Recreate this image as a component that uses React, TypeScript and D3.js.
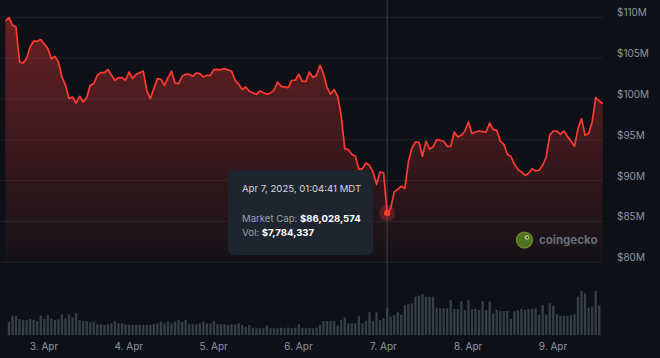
import React from "react";
import * as d3 from "d3";

const W = 660;
const H = 358;

// Market cap (USD millions), hour offsets from Apr 2 2025 00:04:41
const capHours = [13,14,15,16,17,18,19,20,21,22,23,25,26,27,28,29,30,31,32,33,34,35,36,37,38,39,40,41,42,43,44,45,46,47,48,49,50,52,53,54,55,56,57,58,59,60,61,62,63,64,65,66,67,68,69,70,71,72,74,75,77,78,79,80,81,82,84,85,87,88,89,90,91,93,94,95,96,97,98,99,100,101,102,103,104,105,106,107,108,109,110,111,112,113,114,115,116,117,118,119,120,121,122,123,124,125,126,127,128,129,130,131,132,133,134,135,137,138,139,140,141,142,143,144,145,146,147,149,150,151,152,153,154,155,156,157,158,159,160,161,162,163,164,165,166,167,168,169,170,171,172,173,174,175,176,177,178,179,180,181,182];
const capValues = [109.55,109.96,109.02,108.81,104.53,104.40,104.94,106.36,107.10,107.06,107.27,106.17,104.94,105.22,104.53,102.69,101.67,100.04,100.24,99.51,100.33,99.63,100.17,101.67,101.88,102.90,103.23,103.23,103.60,102.90,102.29,102.62,102.62,102.29,103.30,102.49,103.02,103.42,101.06,100.04,101.27,102.49,102.41,101.67,102.62,103.42,101.96,101.88,102.78,103.02,103.02,102.78,103.18,103.11,102.69,102.90,102.90,103.63,103.60,103.72,103.39,102.29,101.80,101.15,101.47,100.94,100.57,100.98,100.57,100.73,101.06,102.08,101.55,101.39,102.29,102.29,103.02,102.16,102.16,103.30,102.62,102.90,104.12,103.11,101.39,100.57,101.15,100.33,98.00,93.92,93.80,93.22,92.98,91.35,91.47,92.16,91.88,91.06,89.55,91.06,90.96,86.028574,86.58,88.63,88.94,89.31,89.02,92.28,93.96,94.73,94.69,92.98,94.82,93.84,94.14,95.02,94.82,94.20,94.20,95.95,95.34,95.55,96.08,97.18,95.76,95.95,96.08,95.95,97.06,96.25,96.16,94.85,94.45,93.22,92.98,92.00,91.35,91.06,90.65,90.86,91.47,91.18,91.27,91.88,92.89,95.55,96.08,96.08,95.67,96.08,95.43,94.85,94.20,96.37,97.60,95.55,95.76,97.18,100.17,99.75,99.43];

// Hourly volume (USD millions), starting at hour 14
const volStartHour = 14;
const volValues = [3.80,5.51,5.51,4.57,4.29,4.29,4.57,4.29,4.00,5.51,4.57,5.71,4.77,4.29,4.57,5.91,4.77,5.91,4.94,6.20,4.29,4.00,4.00,3.63,3.80,3.06,3.06,2.86,3.06,3.34,4.00,3.34,3.34,3.06,2.86,2.86,2.86,2.86,2.86,2.86,2.86,3.06,3.34,3.80,3.34,3.80,3.34,3.80,4.29,3.80,4.29,3.06,3.06,3.06,3.34,3.80,3.34,3.34,4.00,3.06,3.06,3.06,2.86,3.06,3.06,3.34,2.86,2.37,2.86,2.09,1.91,1.91,1.91,2.66,1.91,1.91,1.91,2.09,1.91,2.09,1.91,2.09,3.06,2.09,1.91,2.09,1.91,2.09,2.86,4.00,4.00,4.00,4.00,2.66,4.29,4.94,3.34,3.34,3.34,5.51,3.34,4.00,6.49,4.00,6.49,4.29,4.77,7.784337,5.23,5.71,6.49,5.71,8.57,8.77,9.06,10.94,11.23,11.63,10.94,10.94,10.94,7.78,7.63,7.63,7.63,10.00,7.43,7.43,9.71,7.14,10.00,7.43,7.43,7.14,9.71,7.14,9.51,6.20,7.14,6.86,6.86,6.86,4.57,6.86,7.14,7.43,7.14,7.43,7.43,7.63,5.71,8.57,5.91,9.06,8.37,5.91,5.51,5.51,5.51,5.71,5.91,10.94,12.57,11.91,7.78,8.09,12.57,8.37];

const yTicks = [80, 85, 90, 95, 100, 105, 110];
const dayTicks = [3, 4, 5, 6, 7, 8, 9];

const hoverIndex = 101;
const tooltipDate = "Apr 7, 2025, 01:04:41 MDT";
const tooltipCap = "$86,028,574";
const tooltipVol = "$7,784,337";

const BASE = Date.UTC(2025, 3, 2, 0, 4, 41);
const toTime = (h: number) => new Date(BASE + h * 3600e3);

const RED = "#ff3a33";
const FONT = "Inter, 'Noto Sans', sans-serif";

export default function App() {
  React.useEffect(() => {
    document.body.style.margin = "0";
    document.body.style.background = "#0d1117";
  }, []);

  const x = d3
    .scaleUtc()
    .domain([new Date(Date.UTC(2025, 3, 3)), new Date(Date.UTC(2025, 3, 9))])
    .range([44, 553]);
  const y = d3.scaleLinear().domain([80, 110]).range([262.3, 17.3]);
  const yVol = d3.scaleLinear().domain([0, 14]).range([335, 286]);

  const capData = capHours.map((h, i) => ({ t: toTime(h), v: capValues[i] }));
  const volData = volValues.map((v, i) => ({ t: toTime(volStartHour + i), v }));

  const line = d3
    .line<{ t: Date; v: number }>()
    .x((d) => x(d.t))
    .y((d) => y(d.v));
  const area = d3
    .area<{ t: Date; v: number }>()
    .x((d) => x(d.t))
    .y0(y(80))
    .y1((d) => y(d.v));

  const fmtDay = d3.utcFormat("%-d. %b");
  const hover = capData[hoverIndex];
  const hx = x(hover.t);
  const hy = y(hover.v);
  const barW = 2.3;

  return (
    <svg
      width={W}
      height={H}
      style={{ position: "absolute", left: 0, top: 0, background: "#0d1117" }}
      fontFamily={FONT}
    >
      <defs>
        <linearGradient id="capFill" gradientUnits="userSpaceOnUse" x1="0" y1={y(110)} x2="0" y2={y(80)}>
          <stop offset="0" stopColor={RED} stopOpacity={0.38} />
          <stop offset="1" stopColor={RED} stopOpacity={0.03} />
        </linearGradient>
      </defs>
      <rect x={0} y={0} width={W} height={H} fill="#0d1117" />

      {/* grid lines */}
      {yTicks.map((t) => (
        <line key={t} x1={0} x2={603} y1={y(t)} y2={y(t)} stroke="#1c232c" strokeWidth={1} />
      ))}

      {/* area */}
      <path d={area(capData) || ""} fill="url(#capFill)" />

      {/* volume bars */}
      {volData.map((d, i) => (
        <rect
          key={i}
          x={x(d.t) - barW / 2}
          y={yVol(d.v)}
          width={barW}
          height={yVol(0) - yVol(d.v)}
          fill="#363e49"
        />
      ))}

      {/* crosshair */}
      <line x1={hx} x2={hx} y1={0} y2={335} stroke="#3a424d" strokeWidth={1} />

      <path d={line(capData) || ""} fill="none" stroke={RED} strokeWidth={1.7} strokeLinejoin="round" />

      {/* y axis labels */}
      {yTicks.map((t) => (
        <text key={t} x={617} y={y(t) - 1} fontSize={10} fill="#8d96a3">
          {`$${t}M`}
        </text>
      ))}

      {/* x axis labels */}
      {dayTicks.map((d) => (
        <text key={d} x={x(new Date(Date.UTC(2025, 3, d)))} y={350} fontSize={10} fill="#8d96a3" textAnchor="middle">
          {fmtDay(new Date(Date.UTC(2025, 3, d)))}
        </text>
      ))}

      {/* watermark */}
      <g>
        <circle cx={524.5} cy={240} r={8} fill="#4f7420" stroke="#7f8a2a" strokeWidth={1.2} />
        <circle cx={527} cy={237.5} r={2.2} fill="#c2cf98" />
        <circle cx={527.3} cy={237.5} r={1} fill="#2a3a12" />
        <text x={539} y={244} fontSize={11.5} fontWeight={700} fill="#666d77">
          coingecko
        </text>
      </g>

      {/* hover marker */}
      <circle cx={hx} cy={hy} r={8} fill={RED} fillOpacity={0.25} />
      <circle cx={hx} cy={hy} r={3.2} fill={RED} />

      {/* tooltip */}
      <g>
        <rect x={228} y={170} width={145} height={85} rx={6} fill="#1e252f" />
        <text x={242} y={191.5} fontSize={9.6} fill="#d3d8de">
          {tooltipDate}
        </text>
        <text x={242} y={221.5} fontSize={9.6} fill="#9aa3ae">
          Market Cap: <tspan fill="#ffffff" fontWeight={700}>{tooltipCap}</tspan>
        </text>
        <text x={242} y={236} fontSize={9.6} fill="#9aa3ae">
          Vol: <tspan fill="#ffffff" fontWeight={700}>{tooltipVol}</tspan>
        </text>
      </g>
    </svg>
  );
}
